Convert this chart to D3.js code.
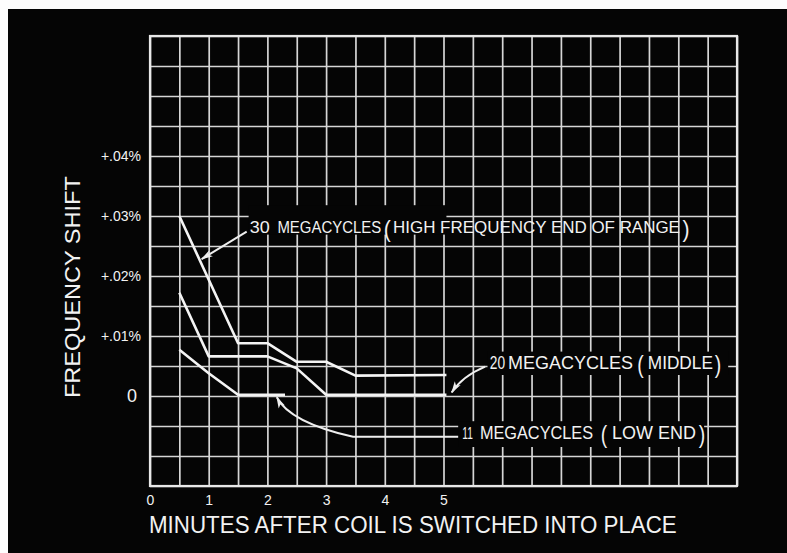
<!DOCTYPE html>
<html>
<head>
<meta charset="utf-8">
<script src="https://cdn.jsdelivr.net/npm/d3@7"></script>
<style>
  html, body { margin: 0; padding: 0; background: #fff; }
  svg { display: block; }
  text { font-family: "Liberation Sans", Arial, sans-serif; fill: #f2f2f2; }
</style>
</head>
<body>
<div id="chart"></div>
<script>
// ---- data (x: minutes, y: frequency shift in %) ----
const xTickValues = [0, 1, 2, 3, 4, 5];
const xTickLabels = ["0", "1", "2", "3", "4", "5"];
const yTickValues = [0, 0.01, 0.02, 0.03, 0.04];
const yTickLabels = ["0", "+.01%", "+.02%", "+.03%", "+.04%"];

const mc30Minutes = [0.5, 1.5, 2.0, 2.5, 3.0, 3.5, 5.05];
const mc30Shift   = [0.030, 0.0088, 0.0088, 0.0057, 0.0057, 0.0034, 0.0035];
const mc20Minutes = [0.5, 1.0, 2.0, 2.5, 3.0, 5.05];
const mc20Shift   = [0.0172, 0.0066, 0.0066, 0.0046, 0.0002, 0.0002];
const mc11Minutes = [0.5, 1.0, 1.5, 2.3];
const mc11Shift   = [0.0077, 0.0038, 0.0002, 0.0002];

const xTitle = "MINUTES AFTER COIL IS SWITCHED INTO PLACE";
const yTitle = "FREQUENCY SHIFT";

// ---- layout ----
const W = 787, H = 553;
const plot = { left: 150, right: 737, top: 36, bottom: 486 };

const svg = d3.select("#chart").append("svg").attr("width", W).attr("height", H);
svg.append("rect").attr("x", 0).attr("y", 0).attr("width", W).attr("height", H).attr("fill", "#fdfdfd");
svg.append("rect").attr("x", 8).attr("y", 9).attr("width", W - 8).attr("height", H - 9).attr("fill", "#050505");

const x = d3.scaleLinear().domain([0, 10]).range([plot.left, plot.right]);
const y = d3.scaleLinear().domain([-0.015, 0.06]).range([plot.bottom, plot.top]);

const defs = svg.append("defs");
defs.append("marker").attr("id", "arrow").attr("viewBox", "0 0 12 8")
  .attr("refX", 11).attr("refY", 4).attr("markerWidth", 12).attr("markerHeight", 8)
  .attr("markerUnits", "userSpaceOnUse").attr("orient", "auto")
  .append("path").attr("d", "M0,0.5 L12,4 L0,7.5 L3,4 Z").attr("fill", "#eee");

// ---- grid ----
const gridColor = "#d6d6d6";
const xGrid = d3.axisBottom(x).tickValues(d3.range(0, 10.001, 0.5))
  .tickSize(-(plot.bottom - plot.top)).tickFormat("");
const gx = svg.append("g").attr("transform", `translate(0,${plot.bottom})`).call(xGrid);
gx.select(".domain").remove();
gx.selectAll("line").attr("stroke", gridColor).attr("stroke-width", 1.7);

const yGrid = d3.axisLeft(y).tickValues(d3.range(-0.015, 0.0601, 0.005))
  .tickSize(-(plot.right - plot.left)).tickFormat("");
const gy = svg.append("g").attr("transform", `translate(${plot.left},0)`).call(yGrid);
gy.select(".domain").remove();
gy.selectAll("line").attr("stroke", gridColor).attr("stroke-width", 1.7);

svg.append("rect").attr("x", plot.left).attr("y", plot.top)
  .attr("width", plot.right - plot.left).attr("height", plot.bottom - plot.top)
  .attr("fill", "none").attr("stroke", "#e8e8e8").attr("stroke-width", 2.2);

// ---- tick labels ----
const xAxis = d3.axisBottom(x).tickValues(xTickValues).tickSize(0)
  .tickFormat((d, i) => xTickLabels[i]);
const ax = svg.append("g").attr("transform", `translate(0,${plot.bottom + 6})`).call(xAxis);
ax.select(".domain").remove();
ax.selectAll("text").attr("font-size", 14).attr("fill", "#e6e6e6")
  .style("font-family", "Liberation Sans, Arial, sans-serif");

const yAxis = d3.axisLeft(y).tickValues(yTickValues).tickSize(0)
  .tickFormat((d, i) => yTickLabels[i]);
const ay = svg.append("g").attr("transform", `translate(${plot.left - 6},0)`).call(yAxis);
ay.select(".domain").remove();
ay.selectAll("text").attr("font-size", d => d === 0 ? 18 : 14).attr("fill", "#eaeaea")
  .attr("dx", d => d === 0 ? -4 : 0)
  .style("font-family", "Liberation Sans, Arial, sans-serif");

// text whose width is fitted by a horizontal scale (keeps glyph box consistent)
function fitted(px, py, txt, size, width, rotate) {
  const t = svg.append("text").attr("font-size", size).text(txt);
  const natural = t.node().getComputedTextLength();
  const sx = width ? width / natural : 1;
  t.attr("transform", `translate(${px},${py})${rotate ? " rotate(-90)" : ""} scale(${sx},1)`);
  return t;
}

// ---- titles ----
fitted(149, 533, xTitle, 23, 528);
fitted(80, 398, yTitle, 22, 222, true);

// ---- annotation backgrounds (label blocks hide the grid) ----
const labelBoxes = [
  [1.68, 0.0318, 5.05, 0.0269],
  [5.75, 0.0074, 9.85, 0.0035],
  [5.25, -0.0042, 9.44, -0.0085]
];
labelBoxes.forEach(b => {
  svg.append("rect").attr("x", x(b[0])).attr("y", y(b[1]))
    .attr("width", x(b[2]) - x(b[0])).attr("height", y(b[3]) - y(b[1]))
    .attr("fill", "#050505");
});

// ---- data lines ----
const line = d3.line().x(d => x(d[0])).y(d => y(d[1]));
[[mc30Minutes, mc30Shift], [mc20Minutes, mc20Shift], [mc11Minutes, mc11Shift]].forEach(s => {
  const pts = s[0].map((m, i) => [m, s[1][i]]);
  svg.append("path").datum(pts).attr("d", line).attr("fill", "none")
    .attr("stroke", "#f4f4f4").attr("stroke-width", 2.6).attr("stroke-linejoin", "round");
});

// ---- annotation labels ----
function label(parts, baseline) {
  parts.forEach(p => {
    const px = x(p[0]), py = y(baseline) + (p[3] || 0);
    if (p[4]) fitted(px, py, p[1], p[2], x(p[4]) - x(p[0]));
    else fitted(px, py, p[1], p[2], 0);
  });
}
label([
  [1.70, "30", 17, 0, 2.04],
  [2.17, "MEGACYCLES", 17, 0, 3.94],
  [3.98, "(", 24, 4, 4.10],
  [4.14, "HIGH FREQUENCY  END OF RANGE", 17, 0, 9.03],
  [9.07, ")", 24, 4, 9.19]
], 0.0272);
label([
  [5.79, "20", 18, 0, 6.05],
  [6.10, "MEGACYCLES", 18, 0, 8.23],
  [8.30, "(", 24, 4, 8.41],
  [8.48, "MIDDLE", 18, 0, 9.59],
  [9.62, ")", 24, 4, 9.73]
], 0.0045);
label([
  [5.32, "11", 17, 0, 5.50],
  [5.62, "MEGACYCLES", 18, 0, 7.55],
  [7.68, "(", 24, 4, 7.79],
  [7.87, "LOW  END", 18, 0, 9.30],
  [9.35, ")", 24, 4, 9.46]
], -0.0072);

// ---- annotation arrows ----
svg.append("path")
  .attr("d", `M${x(1.647)},${y(0.02738)} L${x(0.88)},${y(0.02283)}`)
  .attr("stroke", "#eee").attr("stroke-width", 2).attr("fill", "none").attr("marker-end", "url(#arrow)");
svg.append("path")
  .attr("d", `M${x(5.71)},${y(0.0049)} Q${x(5.32)},${y(0.0033)} ${x(5.14)},${y(0.0006)}`)
  .attr("stroke", "#eee").attr("stroke-width", 2).attr("fill", "none").attr("marker-end", "url(#arrow)");
svg.append("path")
  .attr("d", `M${x(5.25)},${y(-0.0068)} L${x(3.46)},${y(-0.0068)} Q${x(2.38)},${y(-0.0044)} ${x(2.16)},${y(-0.0002)}`)
  .attr("stroke", "#eee").attr("stroke-width", 2).attr("fill", "none").attr("marker-end", "url(#arrow)");
</script>
</body>
</html>
